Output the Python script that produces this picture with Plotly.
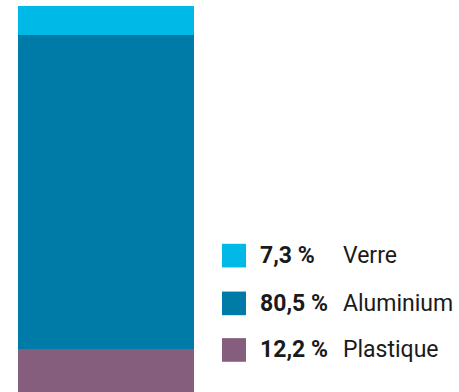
import plotly.graph_objects as go

# Parts de chaque matériau (en %), empilées de bas en haut
materials = ["Plastique", "Aluminium", "Verre"]
shares = [12.2, 80.5, 7.3]
colors = ["#845e7c", "#007ba8", "#00b9e6"]
share_labels = ["12,2 %", "80,5 %", "7,3 %"]

fig = go.Figure()
for name, val, col in zip(materials, shares, colors):
    fig.add_trace(go.Bar(x=[0], y=[val], name=name, marker=dict(color=col, line=dict(width=0)),
                         hoverinfo="skip", showlegend=False))

W, H = 459, 392
fig.update_layout(
    width=W, height=H, barmode="stack", bargap=0,
    margin=dict(l=0, r=0, t=6, b=0),
    plot_bgcolor="white", paper_bgcolor="white",
    xaxis=dict(domain=[18 / W, 194 / W], range=[-0.5, 0.5], visible=False, fixedrange=True),
    yaxis=dict(range=[1.2, 100], visible=False, fixedrange=True),
    font=dict(family="Roboto", color="#1a1a1a"),
)

# Légende personnalisée : carré de couleur, part en gras, nom du matériau
row_centers = [349.3, 302, 253.5]  # pixels depuis le haut
for name, lab, col, yc in zip(materials, share_labels, colors, row_centers):
    yp = 1 - yc / H
    fig.add_shape(type="rect", xref="paper", yref="paper",
                  x0=222 / W, x1=246 / W, y0=yp - 12 / H, y1=yp + 12 / H,
                  fillcolor=col, line=dict(width=0))
    fig.add_annotation(xref="paper", yref="paper", x=258 / W, y=yp, xanchor="left", yanchor="middle",
                       text=f"<b>{lab}</b>", showarrow=False, font=dict(size=23, color="#1a1a1a"))
    fig.add_annotation(xref="paper", yref="paper", x=341 / W, y=yp, xanchor="left", yanchor="middle",
                       text=name, showarrow=False, font=dict(size=23, color="#1a1a1a"))

fig.write_html("out.html")
